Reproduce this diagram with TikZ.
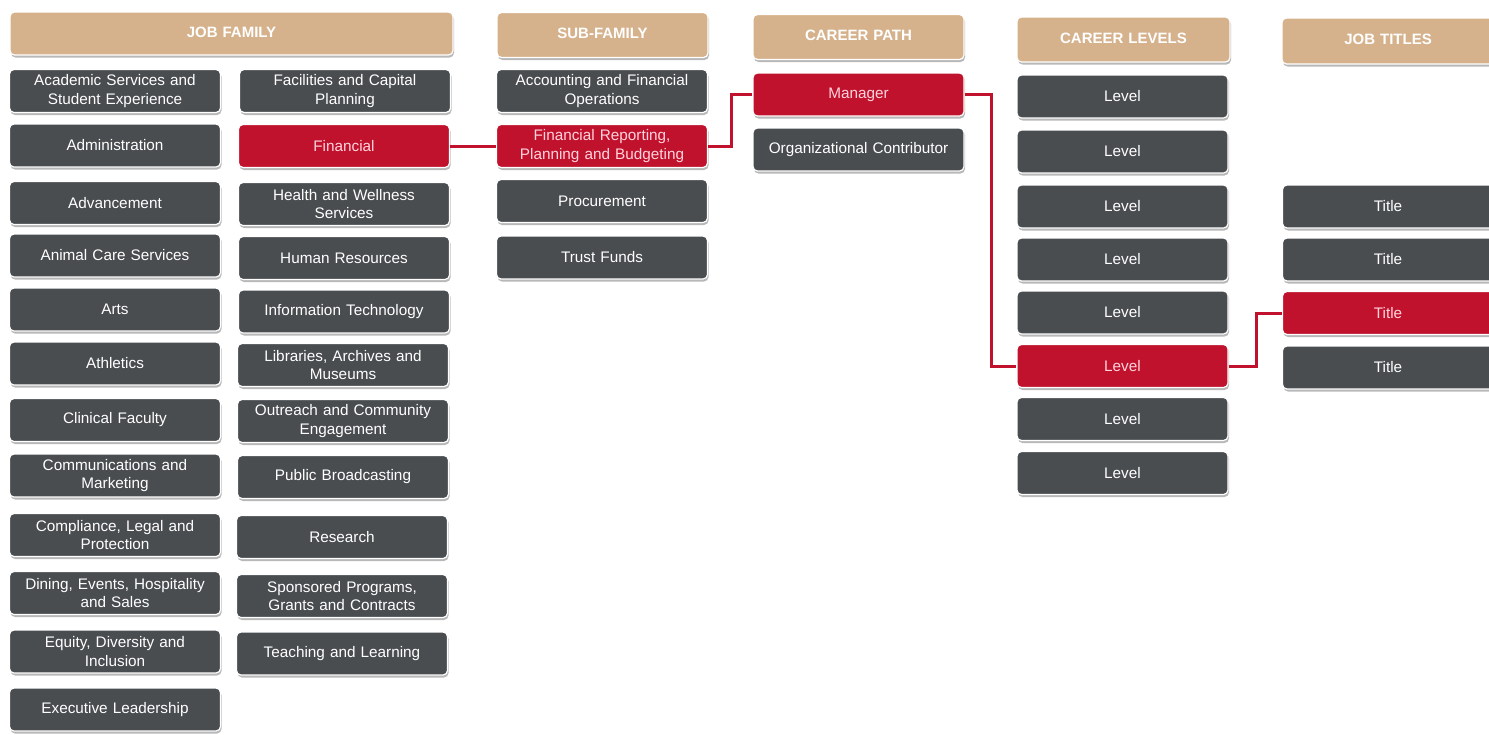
\documentclass[tikz,border=0pt]{standalone}
\usepackage{fontspec}
\setmainfont{Liberation Sans}
\usetikzlibrary{shadows}
\definecolor{hdr}{RGB}{214,178,140}
\definecolor{dgray}{RGB}{74,77,80}
\definecolor{cred}{RGB}{192,18,44}
\definecolor{ptext}{RGB}{255,212,222}
\tikzset{
 base/.style={rounded corners=4.5pt, draw=white, line width=1.2pt, minimum width=211pt, minimum height=43pt, align=center, text width=200pt, font=\fontsize{15.3}{18.5}\selectfont, inner sep=0pt, drop shadow={shadow xshift=1pt, shadow yshift=-2.5pt, fill=black, opacity=0.28}},
 hbox/.style={base, fill=hdr, text=white, font=\bfseries\fontsize{15}{18}\selectfont},
 gbox/.style={base, fill=dgray, text=white},
 rbox/.style={base, fill=cred, text=ptext},
 link/.style={draw=cred, line width=3pt}
}
\begin{document}
\begin{tikzpicture}[x=1pt,y=-1pt]
\clip (0,0) rectangle (1489,734);
\fill[white] (0,0) rectangle (1489,734);
% headers
\node[hbox, minimum width=443pt, text width=430pt] (hjf) at (231.5,33.5) {JOB FAMILY\vphantom{g}};
\node[hbox, minimum height=45pt] (hsf) at (602.5,35) {SUB-FAMILY\vphantom{g}};
\node[hbox, minimum height=45pt] (hcp) at (858.5,37) {CAREER PATH\vphantom{g}};
\node[hbox, minimum height=45pt, minimum width=213pt] (hcl) at (1123.5,39.5) {CAREER LEVELS\vphantom{g}};
\node[hbox, minimum height=46pt, minimum width=212pt] (hjt) at (1388,41) {JOB TITLES\vphantom{g}};
% job family left column
\node[gbox] (f1) at (115,91) {Academic Services and\\Student Experience};
\node[gbox] (f2) at (115,145.5) {Administration};
\node[gbox] (f3) at (115,203) {Advancement};
\node[gbox] (f4) at (115,255.5) {Animal Care Services};
\node[gbox] (f5) at (115,309.5) {Arts};
\node[gbox] (f6) at (115,363.5) {Athletics};
\node[gbox] (f7) at (115,420) {Clinical Faculty};
\node[gbox] (f8) at (115,475.5) {Communications and\\Marketing};
\node[gbox] (f9) at (115,535) {Compliance, Legal and\\Protection};
\node[gbox] (f10) at (115,593) {Dining, Events, Hospitality\\and Sales};
\node[gbox] (f11) at (115,651.5) {Equity, Diversity and\\Inclusion};
\node[gbox] (f12) at (115,709.5) {Executive Leadership};
% job family right column
\node[gbox] (g1) at (345,91) {Facilities and Capital\\Planning};
\node[rbox] (fin) at (344,146) {Financial};
\node[gbox] (g3) at (344,204) {Health and Wellness\\Services};
\node[gbox] (g4) at (344,258) {Human Resources};
\node[gbox] (g5) at (344,311.5) {Information Technology};
\node[gbox] (g6) at (343,365) {Libraries, Archives and\\Museums};
\node[gbox] (g7) at (343,421) {Outreach and Community\\Engagement};
\node[gbox] (g8) at (343,477) {Public Broadcasting};
\node[gbox] (g9) at (342,537) {Research};
\node[gbox] (g10) at (342,596) {Sponsored Programs,\\Grants and Contracts};
\node[gbox] (g11) at (342,653.5) {Teaching and Learning};
% sub-family
\node[gbox] (s1) at (602,91) {Accounting and Financial\\Operations};
\node[rbox] (frp) at (602,146) {Financial Reporting,\\Planning and Budgeting};
\node[gbox] (s3) at (602,201) {Procurement};
\node[gbox] (s4) at (602,257.5) {Trust Funds};
% career path
\node[rbox] (mgr) at (858.5,94.5) {Manager};
\node[gbox] (oc) at (858.5,149.5) {Organizational Contributor};
% career levels
\node[gbox] (l1) at (1122.5,96.5) {Level};
\node[gbox] (l2) at (1122.5,151.5) {Level};
\node[gbox] (l3) at (1122.5,206.5) {Level};
\node[gbox] (l4) at (1122.5,259.5) {Level};
\node[gbox] (l5) at (1122.5,312.5) {Level};
\node[rbox] (l6) at (1122.5,366) {Level};
\node[gbox] (l7) at (1122.5,419) {Level};
\node[gbox] (l8) at (1122.5,473) {Level};
% job titles
\node[gbox] (t1) at (1388,206.5) {Title};
\node[gbox] (t2) at (1388,259.5) {Title};
\node[rbox] (t3) at (1388,313) {Title};
\node[gbox] (t4) at (1388,367.5) {Title};
% connectors
\draw[link] (fin.east) -- (frp.west);
\draw[link] (frp.east) -- ++(23,0) |- (mgr.west);
\draw[link] (mgr.east) -- ++(27,0) |- (l6.west);
\draw[link] (l6.east) -- ++(28,0) |- (t3.west);
\end{tikzpicture}
\end{document}
